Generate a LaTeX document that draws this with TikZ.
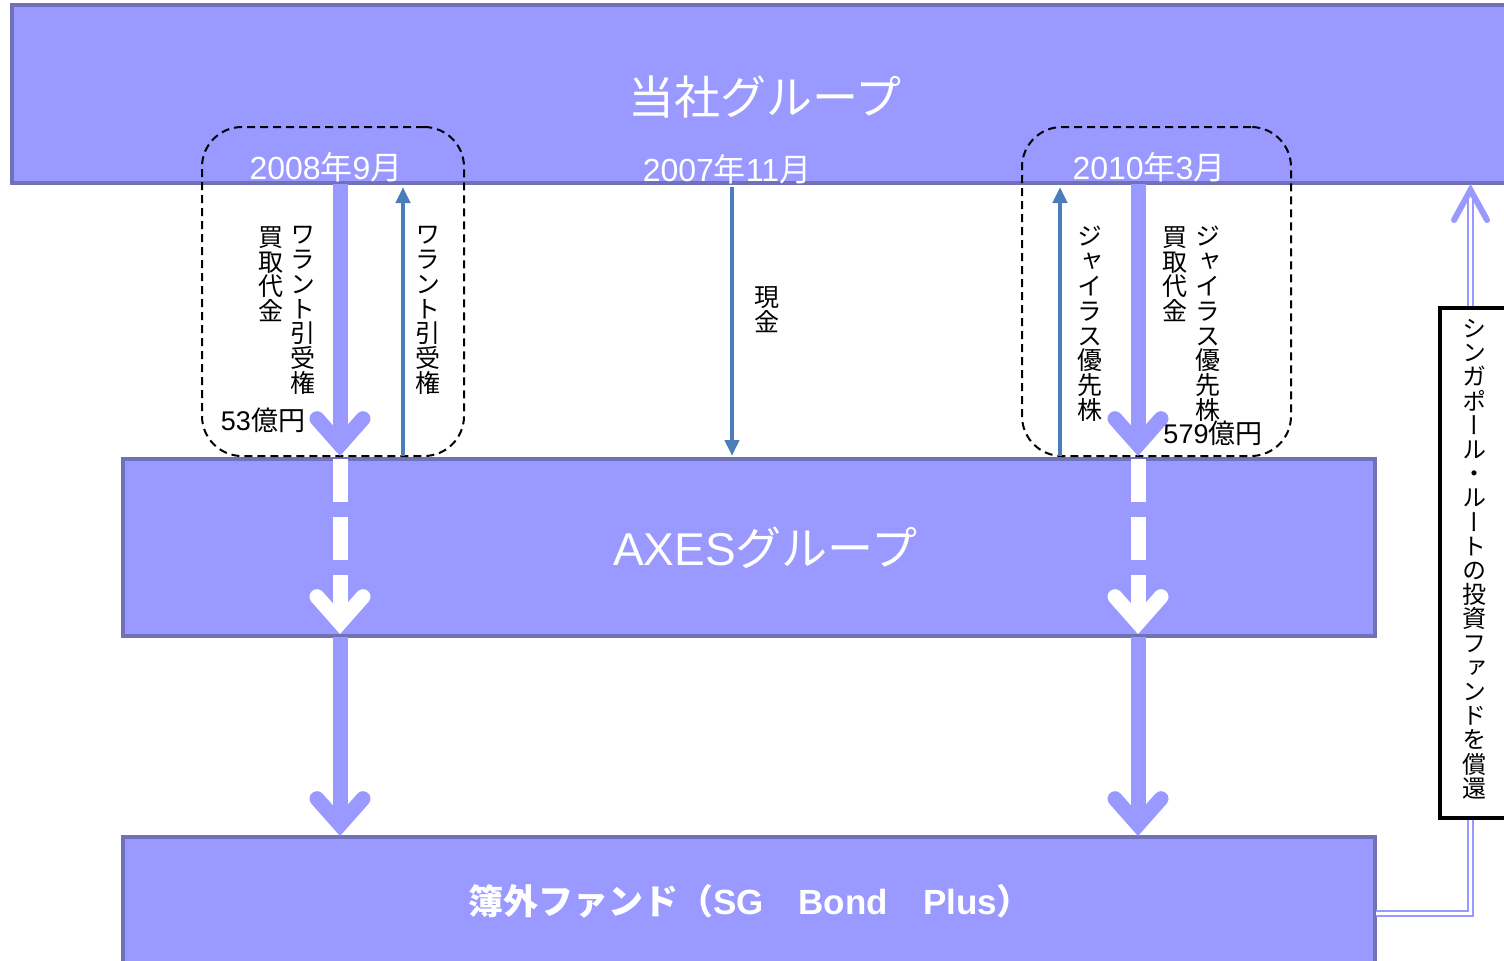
\documentclass[tikz,border=0pt]{standalone}
\usepackage{fontspec}
\setmainfont{Liberation Sans}
\newfontfamily\jp{Noto Sans CJK JP}
\newfontfamily\vjp[RawFeature=+vert]{Noto Sans CJK JP}
\usetikzlibrary{arrows.meta}
\definecolor{boxfill}{HTML}{9999FF}
\definecolor{boxline}{HTML}{7171B8}
\definecolor{thinblue}{HTML}{4A7EBB}
\tikzset{
  grp/.style={fill=boxfill,draw=boxline,line width=2pt,inner sep=0pt},
  title/.style={text=white,font=\fontsize{23pt}{24pt}\selectfont,inner sep=0pt},
  date/.style={text=white,font=\fontsize{16pt}{17pt}\selectfont,inner sep=0pt},
  dashbox/.style={draw=black,dashed,dash pattern=on 4pt off 2.5pt,line width=1pt,rounded corners=20pt,inner sep=0pt},
  fat/.style={boxfill,line width=7.5pt,-{Straight Barb[length=13pt,width=23pt,line cap=round]}},
  fatwhite/.style={white,line width=7.5pt,dash pattern=on 21.5pt off 7.5pt,-{Straight Barb[length=13pt,width=23pt,line cap=round]}},
  thin/.style={thinblue,line width=2pt,-{Triangle[length=8pt,width=7pt]}},
  vlab/.style={font=\vjp\fontsize{12.5pt}{12.4pt}\selectfont,align=center,inner sep=0pt,anchor=north},
  hlab/.style={font=\fontsize{13.5pt}{14pt}\selectfont,inner sep=0pt},
  dbl/.style={boxfill,line width=1pt,double=white,double distance=1.5pt}
}
\begin{document}
\begin{tikzpicture}[x=0.5pt,y=-0.5pt]
\useasboundingbox (0,0) rectangle (1504,960);
% group boxes
\node[grp,minimum width=753pt,minimum height=89pt] (top) at (765,94) {};
\node[title] (toptext) at (765,97) {\jp 当社グループ};
\node[grp,minimum width=626pt,minimum height=88.5pt] (axes) at (749,547.5) {};
\node[title] (axestext) at (765,548) {AXES{\jp グループ}};
\node[grp,minimum width=626pt,minimum height=76pt] (fund) at (749,913) {};
\node[title,font=\bfseries\fontsize{17.5pt}{18pt}\selectfont] (fundtext) at (750,901)
  {{\jp 簿外ファンド（}SG{\jp 　}Bond{\jp 　}Plus{\jp ）}};
% redemption route
\coordinate (r1) at (1376,913.5);
\coordinate (r2) at (1470.5,913.5);
\coordinate (r3) at (1470.5,196);
\draw[dbl] (r1) -- (r2) -- (r3);
\draw[boxfill,line width=3pt,line cap=round,line join=miter] (1454,220) -- (1470.5,190) -- (1487,220);
\node[draw=black,line width=2pt,fill=white,minimum width=40pt,minimum height=255pt] (route) at (1480,563) {};
\node[vlab,font=\vjp\fontsize{12pt}{12.1pt}\selectfont] (routetext) at (1474,319)
  {シ\\ン\\ガ\\ポ\\ー\\ル\\・\\ル\\ー\\ト\\の\\投\\資\\フ\\ァ\\ン\\ド\\を\\償\\還};
% dashed frames
\node[dashbox,minimum width=131pt,minimum height=164.5pt] (frame1) at (333,291.5) {};
\node[dashbox,minimum width=134.5pt,minimum height=164.5pt] (frame2) at (1156.5,291.5) {};
% dates
\node[date] (d1) at (326,167) {2008{\jp 年}9{\jp 月}};
\node[date] (d2) at (727,169) {2007{\jp 年}11{\jp 月}};
\node[date] (d3) at (1149,167) {2010{\jp 年}3{\jp 月}};
% points on the boxes
\coordinate (a1) at (340,184);
\coordinate (a2) at (340,456);
\coordinate (a3) at (340,459);
\coordinate (a4) at (340,634);
\coordinate (a5) at (340,637);
\coordinate (a6) at (340,836);
\coordinate (b1) at (1138,184);
\coordinate (b2) at (1138,456);
\coordinate (b3) at (1138,459);
\coordinate (b4) at (1138,634);
\coordinate (b5) at (1138,637);
\coordinate (b6) at (1138,836);
\coordinate (w1) at (403,456);
\coordinate (w2) at (403,187);
\coordinate (c1) at (732,187);
\coordinate (c2) at (732,456);
\coordinate (g1) at (1060,456);
\coordinate (g2) at (1060,187);
% flows
\draw[fat] (a1) -- (a2);
\draw[fatwhite] (a3) -- (a4);
\draw[fat] (a5) -- (a6);
\draw[fat] (b1) -- (b2);
\draw[fatwhite] (b3) -- (b4);
\draw[fat] (b5) -- (b6);
\draw[thin] (w1) -- (w2);
\draw[thin] (c1) -- (c2);
\draw[thin] (g1) -- (g2);
% labels
\node[vlab] (l1) at (271,226) {買\\取\\代\\金};
\node[vlab] (l2) at (303,226) {ワ\\ラ\\ン\\ト\\引\\受\\権};
\node[hlab] (l3) at (263,420) {53{\jp 億円}};
\node[vlab] (l4) at (428,226) {ワ\\ラ\\ン\\ト\\引\\受\\権};
\node[vlab] (l5) at (767,286) {現\\金};
\node[vlab] (l6) at (1090,226) {ジ\\ャ\\イ\\ラ\\ス\\優\\先\\株};
\node[vlab] (l7) at (1175,226) {買\\取\\代\\金};
\node[vlab] (l8) at (1208,226) {ジ\\ャ\\イ\\ラ\\ス\\優\\先\\株};
\node[hlab] (l9) at (1213,433) {579{\jp 億円}};
\end{tikzpicture}
\end{document}
